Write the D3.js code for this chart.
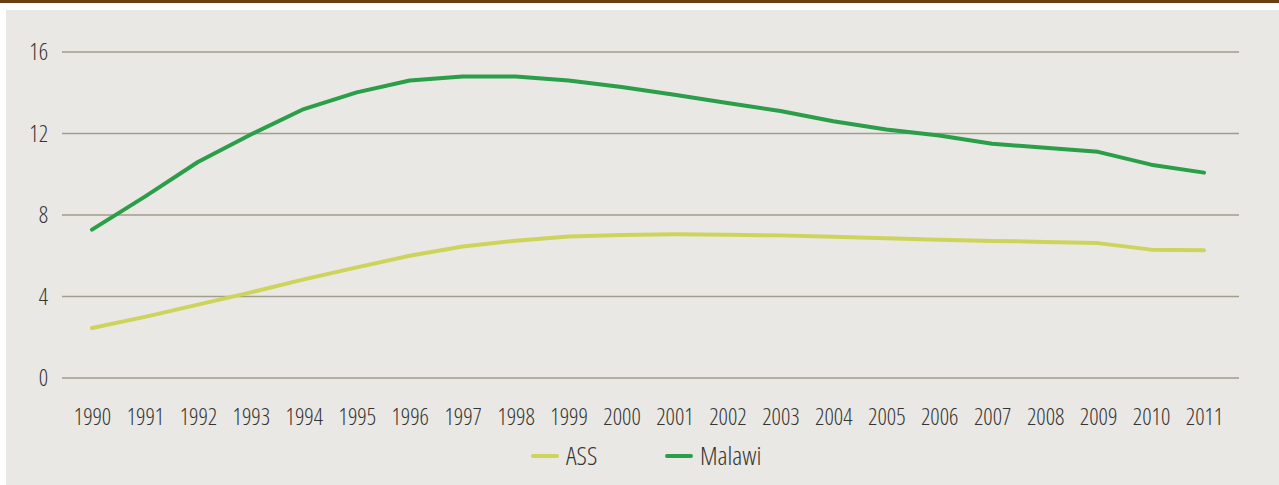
<!DOCTYPE html>
<html>
<head>
<meta charset="utf-8">
<script src="https://cdn.jsdelivr.net/npm/d3@7"></script>
<style>
    body { margin: 0; background: #fff; }
    svg text {
        font-family: "Open Sans", "Liberation Sans", sans-serif;
        font-stretch: 75%;
        font-weight: 300;
        fill: #363533;
    }
</style>
</head>
<body>
<svg id="chart"></svg>
<script>
// data
const years = ['1990','1991','1992','1993','1994','1995','1996','1997','1998','1999','2000',
    '2001','2002','2003','2004','2005','2006','2007','2008','2009','2010','2011']
const assValues = [2.45, 3.0, 3.6, 4.2, 4.84, 5.43, 6.0, 6.45, 6.74, 6.94, 7.02,
    7.05, 7.03, 7.0, 6.93, 6.86, 6.79, 6.73, 6.68, 6.62, 6.3, 6.27]
const malawiValues = [7.28, 8.9, 10.6, 11.95, 13.2, 14.02, 14.6, 14.8, 14.8, 14.6, 14.28,
    13.9, 13.5, 13.1, 12.6, 12.2, 11.9, 11.5, 11.3, 11.1, 10.47, 10.08]
const yTicks = [0, 4, 8, 12, 16]
const seriesNames = ['ASS', 'Malawi']
const seriesColors = ['#cdd45b', '#2a9e48']

const width = 1279, height = 485
const svg = d3.select('#chart')
    .attr('width', width)
    .attr('height', height)

// header bar and panel
svg.append('rect').attr('x', 0).attr('y', 0).attr('width', width).attr('height', 3).attr('fill', '#6b3e12')
svg.append('rect').attr('x', 6).attr('y', 10).attr('width', width - 6).attr('height', height - 10).attr('fill', '#e9e8e4')

const xScale = d3.scalePoint()
    .domain(years)
    .range([92, 1204])

const yScale = d3.scaleLinear()
    .domain([0, 16])
    .range([378, 52])

// grid lines + y labels
const grid = svg.append('g')
grid.selectAll('line')
    .data(yTicks)
    .join('line')
    .attr('x1', 62)
    .attr('x2', 1239)
    .attr('y1', d => yScale(d))
    .attr('y2', d => yScale(d))
    .attr('stroke', '#a09e8c')
    .attr('stroke-width', 1.6)

grid.selectAll('text')
    .data(yTicks)
    .join('text')
    .attr('x', 48)
    .attr('y', d => yScale(d))
    .attr('dy', '0.36em')
    .attr('text-anchor', 'end')
    .style('font-size', '23px')
    .text(d => d)

// x labels
const xAxis = d3.axisBottom(xScale).tickSize(0).tickPadding(0)
const xAxisG = svg.append('g')
    .attr('transform', 'translate(0,425)')
    .call(xAxis)
xAxisG.select('.domain').remove()
xAxisG.attr('font-family', null).attr('font-size', null)
xAxisG.selectAll('text')
    .attr('dy', 0)
    .attr('fill', null)
    .style('font-size', '23px')

const line = d3.line()
    .x((d, i) => xScale(years[i]))
    .y(d => yScale(d))

const series = [assValues, malawiValues]
svg.append('g').selectAll('path')
    .data(series)
    .join('path')
    .attr('d', line)
    .attr('fill', 'none')
    .attr('stroke', (d, i) => seriesColors[i])
    .attr('stroke-width', 4)
    .attr('stroke-linecap', 'round')
    .attr('stroke-linejoin', 'round')

// legend
const legendX = [533, 667]
const legend = svg.append('g')
    .selectAll('g')
    .data(seriesNames)
    .join('g')
    .attr('transform', (d, i) => `translate(${legendX[i]},456)`)

legend.append('line')
    .attr('x1', 0)
    .attr('x2', 24)
    .attr('stroke', (d, i) => seriesColors[i])
    .attr('stroke-width', 4)
    .attr('stroke-linecap', 'round')

legend.append('text')
    .attr('x', 33)
    .attr('dy', '0.36em')
    .style('font-size', '26px')
    .style('font-stretch', '86%')
    .text(d => d)
</script>
</body>
</html>
